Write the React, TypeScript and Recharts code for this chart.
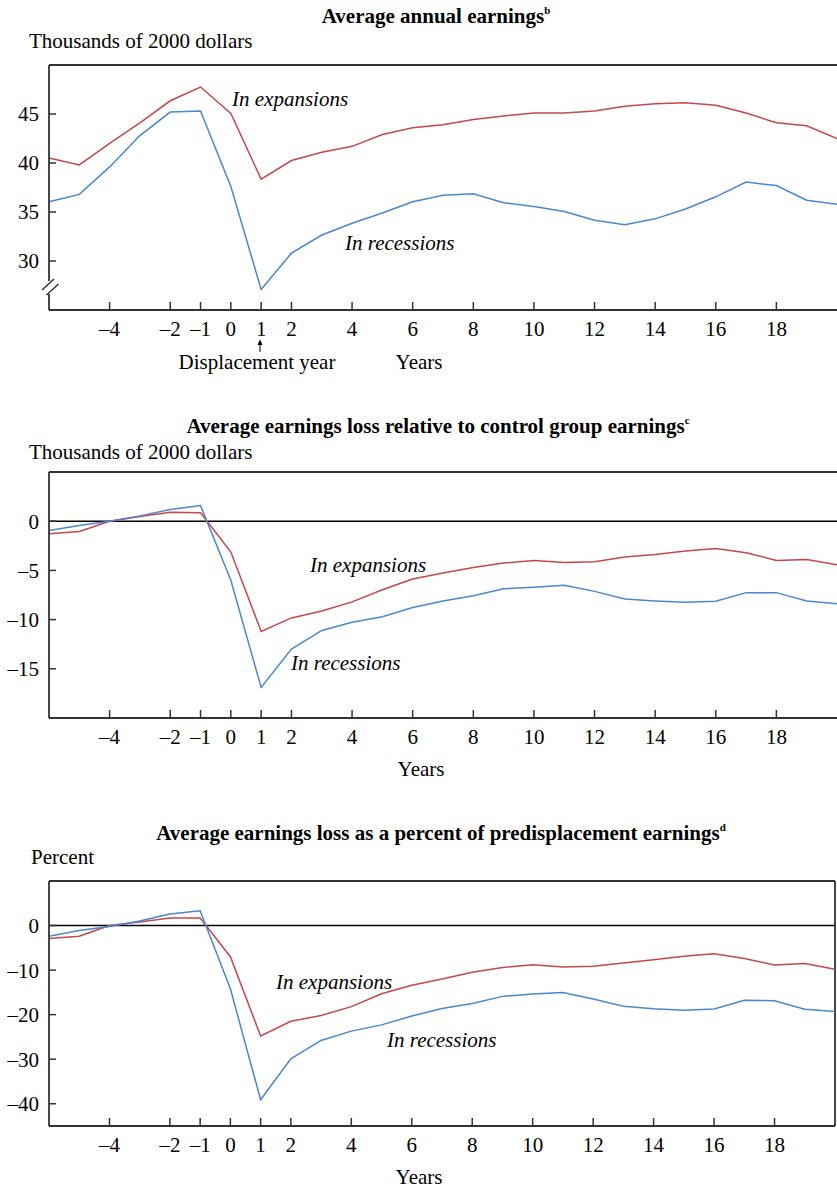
import React from 'react';
import { LineChart, Line, XAxis, YAxis, ReferenceLine } from 'recharts';

const years = [-6, -5, -4, -3, -2, -1, 0, 1, 2, 3, 4, 5, 6, 7, 8, 9, 10, 11, 12, 13, 14, 15, 16, 17, 18, 19, 20];
const xTicks = [-4, -2, -1, 0, 1, 2, 4, 6, 8, 10, 12, 14, 16, 18];

// Panel 1: average annual earnings (thousands of 2000 dollars)
const earningsTicks = [30, 35, 40, 45];
const earningsExpansions = [40.5, 39.8, 42.0, 44.1, 46.35, 47.75, 45.05, 38.35, 40.25, 41.1, 41.7, 42.9, 43.6, 43.9, 44.45, 44.8, 45.1, 45.1, 45.3, 45.8, 46.05, 46.15, 45.9, 45.1, 44.1, 43.8, 42.5];
const earningsRecessions = [36.05, 36.8, 39.6, 42.8, 45.2, 45.3, 37.6, 27.1, 30.8, 32.65, 33.85, 34.9, 36.05, 36.7, 36.85, 35.95, 35.55, 35.05, 34.15, 33.7, 34.3, 35.3, 36.55, 38.05, 37.7, 36.2, 35.8];

// Panel 2: loss relative to control group (thousands of 2000 dollars)
const lossTicks = [-15, -10, -5, 0];
const lossExpansions = [-1.28, -1.05, 0, 0.47, 0.9, 0.85, -3.14, -11.2, -9.83, -9.12, -8.2, -6.96, -5.88, -5.27, -4.7, -4.26, -3.99, -4.19, -4.12, -3.65, -3.38, -3.04, -2.77, -3.21, -3.99, -3.89, -4.43];
const lossRecessions = [-0.95, -0.44, 0, 0.54, 1.18, 1.59, -6.0, -16.9, -13.0, -11.1, -10.27, -9.7, -8.78, -8.1, -7.57, -6.86, -6.72, -6.52, -7.13, -7.9, -8.1, -8.24, -8.14, -7.26, -7.26, -8.1, -8.38];

// Panel 3: loss as percent of predisplacement earnings
const pctTicks = [-40, -30, -20, -10, 0];
const pctExpansions = [-2.9, -2.4, 0, 0.8, 1.7, 1.7, -7.0, -24.8, -21.5, -20.2, -18.2, -15.3, -13.4, -12.0, -10.5, -9.4, -8.8, -9.3, -9.15, -8.4, -7.7, -6.9, -6.35, -7.4, -8.85, -8.5, -9.8];
const pctRecessions = [-2.4, -1.1, -0.2, 1.0, 2.6, 3.3, -14.2, -39.1, -29.9, -25.8, -23.7, -22.3, -20.3, -18.6, -17.5, -15.9, -15.35, -15.05, -16.5, -18.1, -18.7, -19.0, -18.75, -16.75, -16.9, -18.8, -19.3];

const FONT = "'Liberation Serif', 'Times New Roman', serif";
const AX = '#333333';
const RED = '#c8464a';
const BLUE = '#4a86d2';
const FS = 21;

const fmt = (v: number) => (v < 0 ? `\u2013${Math.abs(v)}` : `${v}`);

type PanelProps = {
  top: number;
  height: number;
  marginTop: number;
  marginBottom: number;
  marginRight: number;
  domain: [number, number];
  yTicks: number[];
  exp: number[];
  rec: number[];
  zeroLine?: boolean;
  rightBorder?: boolean;
};

function Panel(p: PanelProps) {
  const data = years.map((y, i) => ({ year: y, exp: p.exp[i], rec: p.rec[i] }));
  const tickStyle = { fill: '#000', fontSize: FS, fontFamily: FONT };
  return (
    <div style={{ position: 'absolute', left: 0, top: p.top }}>
      <LineChart
        width={837}
        height={p.height}
        data={data}
        margin={{ top: p.marginTop, right: p.marginRight, bottom: p.marginBottom, left: 4 }}
      >
        <XAxis
          dataKey="year"
          type="number"
          domain={[-6, 20]}
          ticks={xTicks}
          interval={0}
          allowDataOverflow
          height={40}
          tickSize={-8}
          tickMargin={19}
          tickFormatter={fmt}
          tick={tickStyle}
          axisLine={{ stroke: AX, strokeWidth: 1.8 }}
          tickLine={{ stroke: AX, strokeWidth: 1.5 }}
        />
        <YAxis
          type="number"
          domain={p.domain}
          ticks={p.yTicks}
          interval={0}
          allowDataOverflow
          width={45}
          tickSize={-7}
          tickMargin={17}
          tickFormatter={fmt}
          tick={tickStyle}
          axisLine={{ stroke: AX, strokeWidth: 1.8 }}
          tickLine={{ stroke: AX, strokeWidth: 1.5 }}
        />
        <ReferenceLine y={p.domain[1]} stroke={AX} strokeWidth={1.8} />
        {p.rightBorder && <ReferenceLine x={20} stroke={AX} strokeWidth={1.8} />}
        {p.zeroLine && <ReferenceLine y={0} stroke="#000" strokeWidth={1.5} />}
        <Line type="linear" dataKey="exp" stroke={RED} strokeWidth={1.5} dot={false} isAnimationActive={false} />
        <Line type="linear" dataKey="rec" stroke={BLUE} strokeWidth={1.5} dot={false} isAnimationActive={false} />
      </LineChart>
    </div>
  );
}

const abs = (x: number, y: number, extra: React.CSSProperties = {}): React.CSSProperties => ({
  position: 'absolute',
  left: x,
  top: y,
  whiteSpace: 'nowrap',
  lineHeight: 1,
  fontFamily: FONT,
  fontSize: FS,
  color: '#000',
  ...extra,
});

function Title({ x, y, text, sup }: { x: number; y: number; text: string; sup: string }) {
  return (
    <div style={abs(x, y, { fontWeight: 'bold', fontSize: 21, transform: 'translate(-50%, -50%)' })}>
      {text}
      <span style={{ fontSize: 11, verticalAlign: 'top', position: 'relative', top: -1 }}>{sup}</span>
    </div>
  );
}

function Label({ x, y, text, center, italic }: { x: number; y: number; text: string; center?: boolean; italic?: boolean }) {
  return (
    <div
      style={abs(x, y, {
        transform: center ? 'translate(-50%, -50%)' : 'translate(0, -50%)',
        fontStyle: italic ? 'italic' : 'normal',
      })}
    >
      {text}
    </div>
  );
}

export default function App() {
  return (
    <div style={{ position: 'absolute', left: 0, top: 0, width: 837, height: 1188, background: '#fff', overflow: 'hidden' }}>
      <Panel top={0} height={380} marginTop={65} marginBottom={30} marginRight={0} domain={[25, 50]} yTicks={earningsTicks} exp={earningsExpansions} rec={earningsRecessions} />
      <Panel top={410} height={380} marginTop={62} marginBottom={32} marginRight={0} domain={[-20, 5]} yTicks={lossTicks} exp={lossExpansions} rec={lossRecessions} zeroLine />
      <Panel top={820} height={368} marginTop={61} marginBottom={22} marginRight={2} domain={[-45, 10]} yTicks={pctTicks} exp={pctExpansions} rec={pctRecessions} zeroLine rightBorder />

      {/* axis break on panel 1 and displacement-year arrow */}
      <svg width={837} height={400} style={{ position: 'absolute', left: 0, top: 0, pointerEvents: 'none' }}>
        <rect x={45} y={281} width={10} height={13} fill="#fff" />
        <line x1={42} y1={290} x2={54} y2={279} stroke={AX} strokeWidth={1.5} />
        <line x1={46.5} y1={295} x2={58.5} y2={284} stroke={AX} strokeWidth={1.5} />
        <line x1={260} y1={352} x2={260} y2={342} stroke="#000" strokeWidth={1} />
        <path d="M257.5,345 L260,339.5 L262.5,345 Z" fill="#000" />
      </svg>

      <Title x={436} y={16} text="Average annual earnings" sup="b" />
      <Label x={29} y={41} text="Thousands of 2000 dollars" />
      <Label x={232} y={99} text="In expansions" italic />
      <Label x={345} y={243} text="In recessions" italic />
      <Label x={257} y={362} text="Displacement year" center />
      <Label x={419} y={362} text="Years" center />

      <Title x={438} y={426} text="Average earnings loss relative to control group earnings" sup="c" />
      <Label x={29} y={452} text="Thousands of 2000 dollars" />
      <Label x={310} y={565} text="In expansions" italic />
      <Label x={291} y={663} text="In recessions" italic />
      <Label x={421} y={769} text="Years" center />

      <Title x={441} y={833} text="Average earnings loss as a percent of predisplacement earnings" sup="d" />
      <Label x={31} y={857} text="Percent" />
      <Label x={276} y={982} text="In expansions" italic />
      <Label x={387} y={1040} text="In recessions" italic />
      <Label x={419} y={1177} text="Years" center />
    </div>
  );
}
